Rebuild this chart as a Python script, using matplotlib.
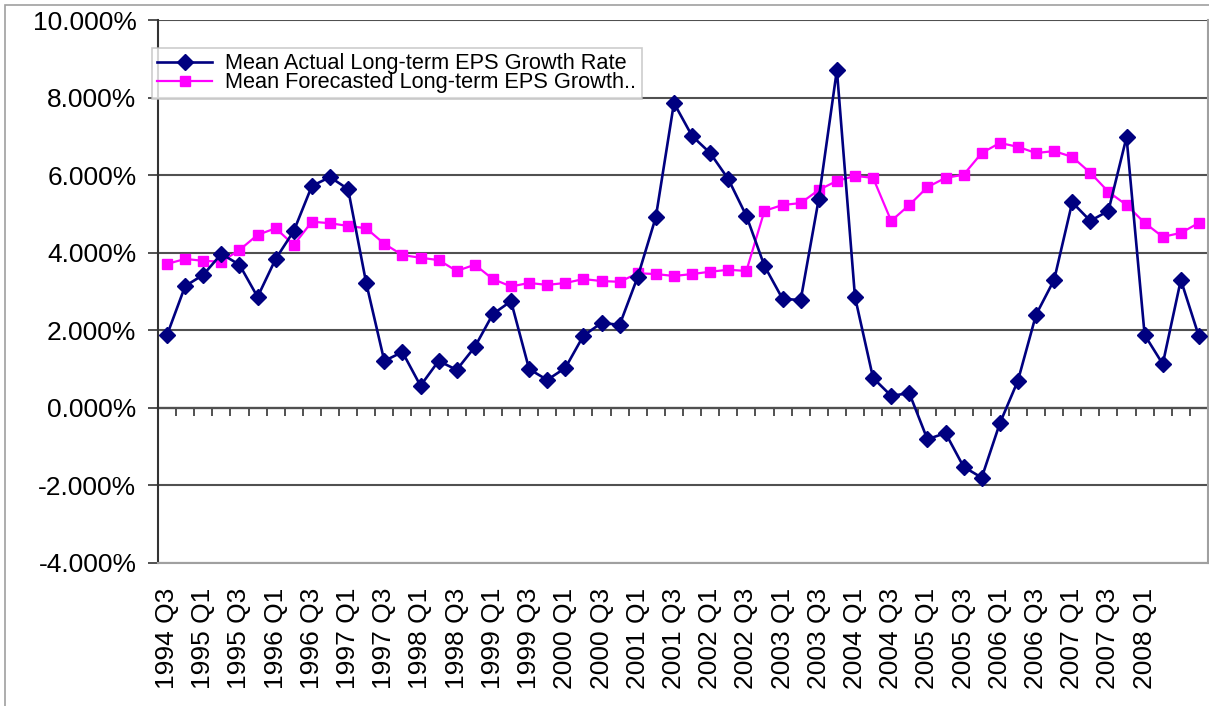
import matplotlib
matplotlib.use("Agg")
import matplotlib.pyplot as plt
from matplotlib.patches import Rectangle

plt.rcParams['font.family'] = ['Liberation Sans', 'DejaVu Sans']

# quarterly series, 1994 Q3 .. 2008 Q4 (values in %)
actual = [1.88, 3.14, 3.43, 3.97, 3.69, 2.86, 3.84, 4.56, 5.72, 5.95,
          5.64, 3.22, 1.21, 1.44, 0.57, 1.21, 0.98, 1.57, 2.42, 2.75,
          1.00, 0.72, 1.03, 1.86, 2.19, 2.14, 3.38, 4.92, 7.86, 7.01,
          6.57, 5.90, 4.95, 3.66, 2.81, 2.78, 5.39, 8.71, 2.86, 0.77,
          0.31, 0.38, -0.81, -0.65, -1.52, -1.80, -0.40, 0.70, 2.40, 3.30,
          5.30, 4.82, 5.08, 6.98, 1.88, 1.13, 3.30, 1.84]

forecast = [3.71, 3.84, 3.79, 3.77, 4.07, 4.46, 4.63, 4.20, 4.80, 4.76,
            4.69, 4.63, 4.23, 3.94, 3.87, 3.81, 3.53, 3.69, 3.32, 3.13,
            3.22, 3.17, 3.22, 3.32, 3.27, 3.25, 3.47, 3.45, 3.40, 3.45,
            3.51, 3.56, 3.53, 5.08, 5.23, 5.28, 5.62, 5.85, 5.98, 5.93,
            4.82, 5.23, 5.69, 5.93, 6.01, 6.57, 6.83, 6.73, 6.57, 6.62,
            6.47, 6.06, 5.57, 5.23, 4.77, 4.41, 4.51, 4.77]

tick_labels = ['1994 Q3', '1995 Q1', '1995 Q3', '1996 Q1', '1996 Q3', '1997 Q1',
               '1997 Q3', '1998 Q1', '1998 Q3', '1999 Q1', '1999 Q3', '2000 Q1',
               '2000 Q3', '2001 Q1', '2001 Q3', '2002 Q1', '2002 Q3', '2003 Q1',
               '2003 Q3', '2004 Q1', '2004 Q3', '2005 Q1', '2005 Q3', '2006 Q1',
               '2006 Q3', '2007 Q1', '2007 Q3', '2008 Q1']

y_ticks = [-4, -2, 0, 2, 4, 6, 8, 10]

n = len(actual)
x = list(range(n))

fig = plt.figure(figsize=(12.09, 7.06), dpi=100)
ax = fig.add_axes([158/1209, 143/706, 1050/1209, 543/706])

ax.set_xlim(-0.5, n - 0.5)
ax.set_ylim(-4, 10)

## gridlines
for v in y_ticks:
    ax.axhline(v, color='#505050', lw=1.5, zorder=1)

ax.plot(x, actual, color='#000080', lw=1.9, marker='D', ms=8.5,
        label='Mean Actual Long-term EPS Growth Rate', zorder=4)
ax.plot(x, forecast, color='#FF00FF', lw=1.6, marker='s', ms=6.5,
        label='Mean Forecasted Long-term EPS Growth..', zorder=3)

## y axis
ax.set_yticks(y_ticks)
ax.set_yticklabels([f'{v:.3f}%' for v in y_ticks])
ax.tick_params(axis='y', length=7.5, width=1.2, color='#333333', pad=8,
               labelsize=19)

## category labels at the bottom
ax.set_xticks(x[::2][:len(tick_labels)])
ax.set_xticklabels(tick_labels, rotation=90, fontsize=19)
ax.tick_params(axis='x', length=0, pad=18)

ax.spines['left'].set_color('#333333')
ax.spines['left'].set_linewidth(1.5)
ax.spines['top'].set_visible(False)
for s in ['right', 'bottom']:
    ax.spines[s].set_color('#a0a0a0')
    ax.spines[s].set_linewidth(1.5)

## category axis line crossing at zero, with the tick marks
zero_pos = (0 - ax.get_ylim()[0]) / (ax.get_ylim()[1] - ax.get_ylim()[0])
sec = ax.secondary_xaxis(zero_pos)
sec.set_xticks([i - 0.5 for i in range(n + 1)])
sec.set_xticklabels([])
sec.tick_params(axis='x', length=6, width=1.2, color='#333333', direction='out')
sec.spines['bottom'].set_color('#333333')
sec.spines['bottom'].set_linewidth(1.6)

leg = ax.legend(loc='upper left', bbox_to_anchor=(152/1209, 1 - 48/706),
                bbox_transform=fig.transFigure, fontsize=15.7, frameon=True,
                fancybox=False, edgecolor='#c0c0c0', borderpad=0.25,
                labelspacing=-0.1, handlelength=2.5, handletextpad=0.6,
                borderaxespad=0)
leg.get_frame().set_linewidth(1.2)
leg.set_zorder(5)

## outer chart border
fig.add_artist(Rectangle((5/1209, -0.1), 1.2, 1.1 - 5/706, transform=fig.transFigure,
                         fill=False, edgecolor='#a0a0a0', lw=1.2))

fig.savefig('out.png', dpi=100)
